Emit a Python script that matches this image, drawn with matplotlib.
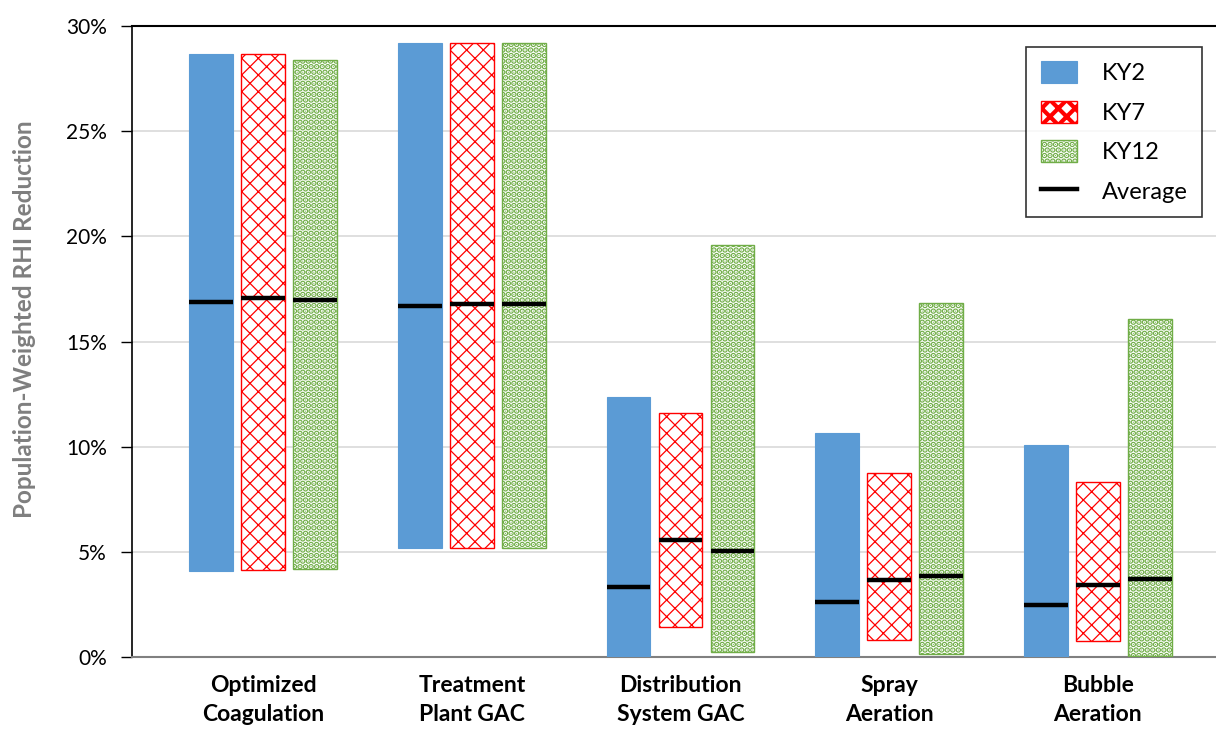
import matplotlib
matplotlib.use("Agg")
import matplotlib.pyplot as plt
import numpy as np
from matplotlib.patches import Patch
from matplotlib.lines import Line2D
from matplotlib.ticker import PercentFormatter

categories = ["Optimized\nCoagulation", "Treatment\nPlant GAC", "Distribution\nSystem GAC",
              "Spray\nAeration", "Bubble\nAeration"]
series = ["KY2", "KY7", "KY12"]

# min, max, average (%) per series
ky2_min = [4.10, 5.19, 0.00, 0.00, 0.00]
ky2_max = [28.67, 29.19, 12.38, 10.67, 10.10]
ky2_avg = [16.86, 16.71, 3.33, 2.62, 2.48]

ky7_min = [4.14, 5.19, 1.43, 0.81, 0.76]
ky7_max = [28.67, 29.19, 11.62, 8.76, 8.33]
ky7_avg = [17.05, 16.76, 5.57, 3.67, 3.43]

ky12_min = [4.19, 5.19, 0.24, 0.14, 0.05]
ky12_max = [28.38, 29.19, 19.57, 16.81, 16.05]
ky12_avg = [16.95, 16.76, 5.05, 3.86, 3.71]

yticks = [0, 5, 10, 15, 20, 25, 30]

plt.rcParams['font.family'] = ['Lato', 'DejaVu Sans']

fig = plt.figure(figsize=(12.16, 7.29), dpi=100)
ax = fig.add_axes([132/1216, 72/729, 1 - 132/1216, (657-26)/729])

styles = [
    dict(facecolor="#5B9BD5", edgecolor="#5B9BD5", hatch=None, linewidth=0.8),
    dict(facecolor="white", edgecolor="#FF0000", hatch="xx", linewidth=1.0),
    dict(facecolor="white", edgecolor="#70AD47", hatch="...", linewidth=1.0),
]
hatch_lw = [1.0, 0.9, 3.0]
mins = [ky2_min, ky7_min, ky12_min]
maxs = [ky2_max, ky7_max, ky12_max]
avgs = [ky2_avg, ky7_avg, ky12_avg]

x = np.arange(len(categories))
width = 0.21
offsets = [-0.249, 0.0, 0.249]

for i in range(3):
    plt.rcParams['hatch.linewidth'] = hatch_lw[i]
    lo = np.array(mins[i])
    hi = np.array(maxs[i])
    xi = x + offsets[i]
    ax.bar(xi, hi - lo, bottom=lo, width=width, zorder=3, **styles[i])
    ax.hlines(avgs[i], xi - width/2, xi + width/2, colors="black", linewidth=3.2, zorder=4)

ax.set_xlim(-0.628, 4.566)
ax.set_ylim(0, 30)
ax.set_yticks(yticks)
ax.yaxis.set_major_formatter(PercentFormatter(decimals=0))
ax.grid(axis="y", color="#D9D9D9", linewidth=1.2, zorder=0)
ax.set_axisbelow(True)

ax.spines['right'].set_visible(False)
ax.spines['top'].set_color("black")
ax.spines['top'].set_linewidth(1.5)
ax.spines['left'].set_color("black")
ax.spines['left'].set_linewidth(1.2)
ax.spines['bottom'].set_color("#808080")
ax.spines['bottom'].set_linewidth(1.5)

ax.tick_params(axis='y', direction='out', length=8, width=1.0, color="black",
               labelsize=15, pad=10, labelcolor="black")
ax.set_xticks(x)
ax.set_xticklabels(categories, fontsize=16.5, fontweight="bold", linespacing=1.45)
ax.tick_params(axis='x', length=0, pad=13)

ax.set_ylabel("Population-Weighted RHI Reduction", fontsize=17.5, fontweight="bold",
              color="#7F7F7F")
ax.yaxis.set_label_coords(-0.089, 0.535)

handles = []
for i in range(3):
    plt.rcParams['hatch.linewidth'] = hatch_lw[i]
    handles.append(Patch(**styles[i], label=series[i]))
handles.append(Line2D([0], [0], color="black", linewidth=3.2, label="Average"))
leg = ax.legend(handles=handles, loc="upper right",
                bbox_to_anchor=(1202/1216, (729-47)/729), bbox_transform=fig.transFigure,
                fontsize=17, frameon=True, fancybox=False, edgecolor="black",
                handlelength=1.55, handleheight=1.05, handletextpad=1.05,
                labelspacing=0.7, borderpad=0.6, borderaxespad=0.0)
leg.get_frame().set_linewidth(1.2)

fig.savefig("out.png", dpi=100)
